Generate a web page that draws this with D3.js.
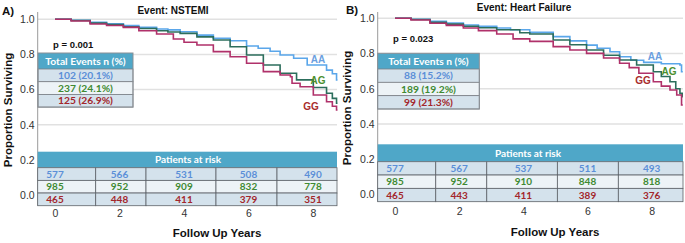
<!DOCTYPE html>
<html><head><meta charset="utf-8">
<script src="https://cdn.jsdelivr.net/npm/d3@7"></script>
<style>body{margin:0;background:#fff}svg{display:block}</style>
</head><body>
<svg id="c" width="685" height="243"></svg>
<script>
// ---------- DATA ----------
const groups = ["AA", "AG", "GG"];
const xTicks = [0, 2, 4, 6, 8];
const yTicks = [0.0, 0.2, 0.4, 0.6, 0.8, 1.0];

// Panel A: NSTEMI  [year, proportion surviving]
const nstemiAA = [[0,1],[0.5,0.995],[1.09,0.983],[1.6,0.975],[2.12,0.964],[2.6,0.955],[3.15,0.945],[3.5,0.94],[3.88,0.929],[4.4,0.91],[4.91,0.892],[5.43,0.878],[5.94,0.848],[6.3,0.835],[6.67,0.818],[6.98,0.797],[7.4,0.778],[7.82,0.74],[8.42,0.711],[8.6,0.69],[8.73,0.655],[8.76,0.655]];
const nstemiAG = [[0,1],[0.5,0.993],[1.09,0.978],[1.6,0.97],[2.12,0.958],[2.6,0.948],[3.15,0.935],[3.5,0.928],[3.88,0.92],[4.4,0.9],[4.91,0.882],[5.43,0.844],[5.94,0.797],[6.46,0.74],[6.98,0.693],[7.49,0.655],[8.01,0.612],[8.42,0.579],[8.6,0.55],[8.73,0.522],[8.76,0.522]];
const nstemiGG = [[0,1],[0.5,0.99],[1.09,0.973],[1.6,0.965],[2.12,0.954],[2.6,0.935],[3.15,0.916],[3.67,0.888],[4.0,0.869],[4.4,0.854],[4.91,0.816],[5.43,0.787],[5.94,0.75],[6.46,0.702],[6.98,0.683],[7.3,0.673],[7.35,0.636],[7.6,0.616],[8.01,0.569],[8.42,0.531],[8.6,0.505],[8.73,0.484],[8.76,0.484]];
const nstemiEvents = ["102 (20.1%)", "237 (24.1%)", "125 (26.9%)"];
const nstemiRiskAA = [577, 566, 531, 508, 490];
const nstemiRiskAG = [985, 952, 909, 832, 778];
const nstemiRiskGG = [465, 448, 411, 379, 351];

// Panel B: Heart Failure
const hfAA = [[0,1],[0.5,0.995],[1.09,0.983],[1.6,0.973],[2.13,0.962],[2.6,0.955],[3.17,0.945],[3.6,0.935],[4.2,0.92],[4.93,0.896],[5.45,0.872],[5.97,0.848],[6.3,0.83],[6.7,0.81],[7.0,0.782],[7.35,0.762],[7.75,0.75],[8.3,0.742],[8.88,0.735],[8.93,0.697],[8.97,0.697]];
const hfAG = [[0,1],[0.5,0.993],[1.09,0.977],[1.6,0.967],[2.13,0.955],[2.6,0.946],[3.17,0.935],[3.89,0.918],[4.2,0.911],[4.93,0.877],[5.45,0.85],[5.97,0.82],[6.5,0.79],[7.0,0.763],[7.53,0.735],[8.05,0.697],[8.3,0.67],[8.57,0.64],[8.75,0.6],[8.88,0.574],[8.95,0.555],[8.97,0.555]];
const hfGG = [[0,1],[0.5,0.99],[1.09,0.972],[1.6,0.96],[2.13,0.945],[2.6,0.93],[3.17,0.911],[3.68,0.883],[4.2,0.869],[4.93,0.839],[5.45,0.82],[5.97,0.801],[6.5,0.775],[7.0,0.745],[7.3,0.72],[7.6,0.688],[8.05,0.64],[8.3,0.615],[8.57,0.593],[8.78,0.565],[8.93,0.508],[8.97,0.508]];
const hfEvents = ["88 (15.2%)", "189 (19.2%)", "99 (21.3%)"];
const hfRiskAA = [577, 567, 537, 511, 493];
const hfRiskAG = [985, 952, 910, 848, 818];
const hfRiskGG = [465, 443, 411, 389, 376];

// ---------- STYLE ----------
const curveColor = {AA: "#5aa6ea", AG: "#2c6e5c", GG: "#b0316a"};
const labelColor = {AA: "#6b9fe0", AG: "#4b8f2f", GG: "#a82c2c"};
const textColor = ["#5b8fd8", "#3f8a32", "#a3262b"];
const rowFill = ["#d4e2ec", "#edf3f7", "#d4e2ec"];
const headFill = "#4fa7c8";
const tableFont = "Lato, Open Sans";
const svg = d3.select("#c");

function panel(o) {
  const x = d3.scaleLinear().domain([0, 8]).range([o.x0, o.x8]);
  const y = d3.scaleLinear().domain([0, 1]).range([o.y0, o.y1]);
  const g = svg.append("g");

  // gridlines
  g.selectAll(".grid").data(yTicks).join("line")
    .attr("x1", o.left).attr("x2", o.right)
    .attr("y1", d => y(d)).attr("y2", d => y(d))
    .attr("stroke", "#e1e1e1").attr("stroke-width", 1.5);

  // y axis
  const ya = d3.axisLeft(y).tickValues(yTicks).tickFormat(d3.format(".1f")).tickSize(0).tickPadding(3);
  const yg = g.append("g").attr("transform", `translate(${o.left},0)`).call(ya);
  yg.select(".domain").remove();
  yg.selectAll("text").attr("font-family", "Liberation Sans, Arial").attr("font-size", 10.5).attr("fill", "#333");
  g.append("line").attr("x1", o.left).attr("x2", o.left).attr("y1", o.axisTop).attr("y2", o.riskBottom)
    .attr("stroke", "#9a9a9a").attr("stroke-width", 1);

  // x axis labels
  const xa = d3.axisBottom(x).tickValues(xTicks).tickSize(0).tickPadding(0);
  const xg = g.append("g").attr("transform", `translate(0,${o.xLabelY})`).call(xa);
  xg.select(".domain").remove();
  xg.selectAll("text").attr("font-family", "Liberation Sans, Arial").attr("font-size", 10.5).attr("fill", "#333").attr("dy", "0.35em");

  // curves
  const line = d3.line().x(d => x(d[0])).y(d => y(d[1])).curve(d3.curveStepAfter);
  groups.forEach((k, i) => {
    g.append("path").datum(o.curves[i]).attr("d", line)
      .attr("fill", "none").attr("stroke", curveColor[k]).attr("stroke-width", 1.6);
  });
  groups.forEach((k, i) => {
    g.append("text").attr("x", o.labelPos[i][0]).attr("y", o.labelPos[i][1]).attr("dy", "0.35em")
      .attr("text-anchor", "middle").attr("font-family", "Liberation Sans, Arial").attr("font-weight", "bold")
      .attr("font-size", 10).attr("fill", labelColor[k]).text(k);
  });

  // titles
  g.append("text").attr("x", o.tag[0]).attr("y", o.tag[1]).attr("dy", "0.35em")
    .attr("font-family", "Liberation Sans, Arial").attr("font-weight", "bold").attr("font-size", 11.5).attr("fill", "#111").text(o.tagText);
  g.append("text").attr("x", o.title[0]).attr("y", o.title[1]).attr("dy", "0.35em").attr("text-anchor", "middle")
    .attr("font-family", "Liberation Sans, Arial").attr("font-weight", "bold").attr("font-size", 10).attr("fill", "#111").text(o.titleText);
  g.append("text").attr("transform", `translate(${o.yLab[0]},${o.yLab[1]}) rotate(-90)`).attr("dy", "0.35em")
    .attr("text-anchor", "middle").attr("font-family", "Liberation Sans, Arial").attr("font-weight", "bold")
    .attr("font-size", 11.5).attr("fill", "#111").text("Proportion Surviving");
  g.append("text").attr("x", o.xLab[0]).attr("y", o.xLab[1]).attr("dy", "0.35em").attr("text-anchor", "middle")
    .attr("font-family", "Liberation Sans, Arial").attr("font-weight", "bold").attr("font-size", 11.5).attr("fill", "#111").text("Follow Up Years");
  g.append("text").attr("x", o.pPos[0]).attr("y", o.pPos[1]).attr("dy", "0.35em")
    .attr("font-family", "Liberation Sans, Arial").attr("font-weight", "bold").attr("font-size", 9.5).attr("fill", "#111").text(o.pText);

  // Total events table
  const te = o.te;
  const tg = g.append("g");
  tg.append("rect").attr("x", te.x).attr("y", te.y).attr("width", te.w).attr("height", te.hh).attr("fill", headFill);
  tg.append("text").attr("x", te.x + te.w / 2).attr("y", te.y + te.hh / 2).attr("dy", "0.35em").attr("text-anchor", "middle")
    .attr("font-family", tableFont).attr("font-weight", "bold").attr("font-size", 10.3).attr("fill", "#fff").text("Total Events n (%)");
  o.events.forEach((t, i) => {
    const ry = te.y + te.hh + i * te.rh;
    tg.append("rect").attr("x", te.x).attr("y", ry).attr("width", te.w).attr("height", te.rh)
      .attr("fill", rowFill[i]).attr("stroke", "#7a7f85").attr("stroke-width", 0.8);
    tg.append("text").attr("x", te.x + te.w / 2).attr("y", ry + te.rh / 2).attr("dy", "0.35em").attr("text-anchor", "middle")
      .attr("font-family", tableFont).attr("font-weight", "bold").attr("font-size", 10.3).attr("fill", textColor[i]).text(t);
  });
  tg.append("rect").attr("x", te.x).attr("y", te.y).attr("width", te.w).attr("height", te.hh + 3 * te.rh)
    .attr("fill", "none").attr("stroke", "#8a8f95").attr("stroke-width", 1);

  // Patients at risk table
  const rk = o.rk;
  const rg = g.append("g");
  const rw = o.right - o.left;
  rg.append("rect").attr("x", o.left).attr("y", rk.y).attr("width", rw).attr("height", rk.hh).attr("fill", headFill);
  rg.append("text").attr("x", rk.headX).attr("y", rk.y + rk.hh / 2).attr("dy", "0.35em").attr("text-anchor", "middle")
    .attr("font-family", tableFont).attr("font-weight", "bold").attr("font-size", 10).attr("fill", "#fff").text("Patients at risk");
  const edges = [o.left].concat(rk.breaks.map(b => x(b))).concat([o.right]);
  o.risk.forEach((vals, i) => {
    const ry = rk.y + rk.hh + i * rk.rh;
    vals.forEach((v, j) => {
      rg.append("rect").attr("x", edges[j]).attr("y", ry).attr("width", edges[j + 1] - edges[j]).attr("height", rk.rh)
        .attr("fill", rowFill[i]).attr("stroke", "#5d6268").attr("stroke-width", 0.8);
      rg.append("text").attr("x", x(xTicks[j])).attr("y", ry + rk.rh / 2).attr("dy", "0.35em").attr("text-anchor", "middle")
        .attr("font-family", tableFont).attr("font-weight", "bold").attr("font-size", 10).attr("fill", textColor[i]).text(v);
    });
  });
}

panel({
  x0: 55, x8: 313, y0: 195, y1: 19.3, left: 37.7, right: 337, axisTop: 12, riskBottom: 205.7,
  xLabelY: 213, curves: [nstemiAA, nstemiAG, nstemiGG],
  labelPos: [[318, 59.5], [318, 80], [311, 106]],
  tag: [2, 11], tagText: "A)", title: [173, 10.5], titleText: "Event: NSTEMI",
  yLab: [8, 110], xLab: [217, 233], pPos: [53, 45], pText: "p = 0.001",
  te: {x: 38, y: 53, w: 95, hh: 16, rh: 12.7}, events: nstemiEvents,
  rk: {y: 151.7, hh: 16, rh: 12.67, headX: 188, breaks: [1.262, 2.822, 4.992, 6.884]},
  risk: [nstemiRiskAA, nstemiRiskAG, nstemiRiskGG]
});
panel({
  x0: 395, x8: 651.7, y0: 194.5, y1: 18.3, left: 377.7, right: 683, axisTop: 12, riskBottom: 201.7,
  xLabelY: 211.7, curves: [hfAA, hfAG, hfGG],
  labelPos: [[655, 56], [669, 71], [643, 80]],
  tag: [346, 10], tagText: "B)", title: [524, 7.5], titleText: "Event: Heart Failure",
  yLab: [347, 108], xLab: [555, 231.7], pPos: [393, 39], pText: "p = 0.023",
  te: {x: 377.7, y: 53.3, w: 101.6, hh: 15.7, rh: 13.33}, events: hfEvents,
  rk: {y: 144.3, hh: 17.4, rh: 13.33, headX: 528, breaks: [1.27, 2.86, 5.06, 6.96]},
  risk: [hfRiskAA, hfRiskAG, hfRiskGG]
});
</script>
</body></html>
